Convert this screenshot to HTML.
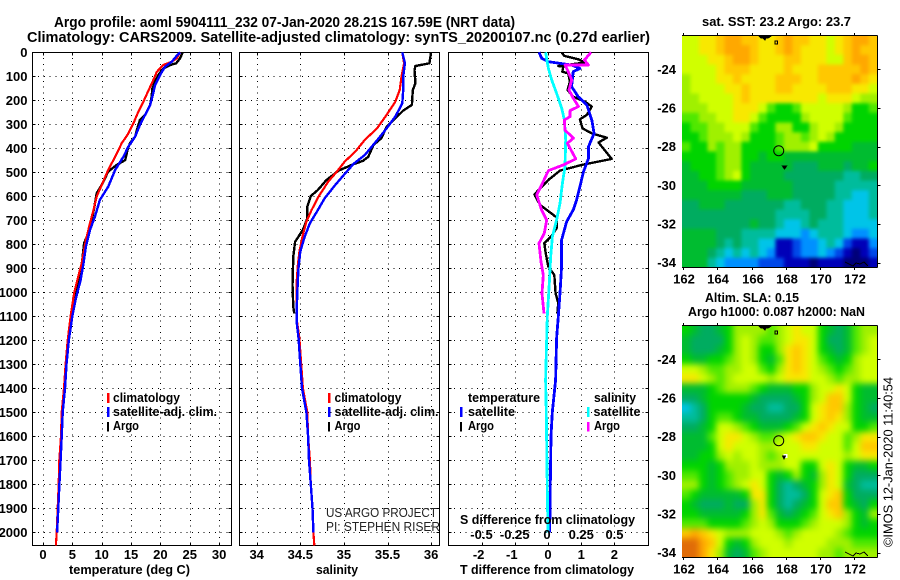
<!DOCTYPE html>
<html lang="en">
<head>
<meta charset="utf-8">
<title>Argo profile 5904111_232</title>
<style>
html,body{margin:0;padding:0;background:#fff;width:900px;height:580px;overflow:hidden}
svg{display:block;font-family:"Liberation Sans",sans-serif}
text{fill:#000}
.b{font-weight:bold;font-size:13px}
.t{font-weight:bold;font-size:14.5px}
.th{font-size:12.5px;fill:#222}
</style>
</head>
<body>
<svg id="chart" xmlns="http://www.w3.org/2000/svg" width="900" height="580" viewBox="0 0 900 580">
  <defs>
    <clipPath id="clip-sst"><rect x="682" y="35.5" width="195.3" height="232"/></clipPath>
    <clipPath id="clip-sla"><rect x="682" y="325.5" width="195.3" height="232"/></clipPath>
    <filter id="soft-sst" filterUnits="userSpaceOnUse" x="650" y="0" width="260" height="300" color-interpolation-filters="sRGB"><feGaussianBlur stdDeviation="1.8"/></filter>
    <filter id="soft-sla" filterUnits="userSpaceOnUse" x="650" y="290" width="260" height="300" color-interpolation-filters="sRGB"><feGaussianBlur stdDeviation="3.2"/></filter>
  </defs>
  <g clip-path="url(#clip-sst)"><g id="heat-sst" filter="url(#soft-sst)"></g></g>
  <g clip-path="url(#clip-sla)"><g id="heat-sla" filter="url(#soft-sla)"></g></g>
  <g id="axes"></g>
  <g id="lines"></g>
  <g id="ticklabels" class="b"></g>

  <text class="t" x="54" y="27" textLength="461" lengthAdjust="spacingAndGlyphs">Argo profile: aoml 5904111_232 07-Jan-2020 28.21S 167.59E (NRT data)</text>
  <text class="t" x="27" y="42" textLength="623" lengthAdjust="spacingAndGlyphs">Climatology: CARS2009. Satellite-adjusted climatology: synTS_20200107.nc (0.27d earlier)</text>

  <text class="b" x="69" y="574" textLength="121" lengthAdjust="spacingAndGlyphs">temperature (deg C)</text>
  <text class="b" x="316" y="574" textLength="42" lengthAdjust="spacingAndGlyphs">salinity</text>
  <text class="b" x="460" y="574" textLength="174" lengthAdjust="spacingAndGlyphs">T difference from climatology</text>
  <text class="b" x="460" y="524" textLength="175" lengthAdjust="spacingAndGlyphs">S difference from climatology</text>

  <g class="b">
    <rect x="107" y="393" width="2.5" height="10" fill="#f00"/>
    <text x="113" y="402" textLength="67" lengthAdjust="spacingAndGlyphs">climatology</text>
    <rect x="107" y="407" width="2.5" height="10" fill="#00f"/>
    <text x="113" y="416" textLength="104" lengthAdjust="spacingAndGlyphs">satellite-adj. clim.</text>
    <rect x="107" y="422" width="2" height="9.500" fill="#000"/>
    <text x="113" y="430" textLength="26" lengthAdjust="spacingAndGlyphs">Argo</text>
  </g>
  <g class="b">
    <rect x="328" y="393" width="2.5" height="10" fill="#f00"/>
    <text x="334.5" y="402" textLength="67" lengthAdjust="spacingAndGlyphs">climatology</text>
    <rect x="328" y="407" width="2.5" height="10" fill="#00f"/>
    <text x="334.5" y="416" textLength="104" lengthAdjust="spacingAndGlyphs">satellite-adj. clim.</text>
    <rect x="328" y="422" width="2" height="9.500" fill="#000"/>
    <text x="334.5" y="430" textLength="26" lengthAdjust="spacingAndGlyphs">Argo</text>
  </g>
  <g class="b">
    <text x="468" y="402" textLength="72" lengthAdjust="spacingAndGlyphs">temperature</text>
    <text x="594" y="402" textLength="42" lengthAdjust="spacingAndGlyphs">salinity</text>
    <rect x="460" y="407" width="2.5" height="10" fill="#00f"/>
    <text x="468" y="416" textLength="47" lengthAdjust="spacingAndGlyphs">satellite</text>
    <rect x="460" y="422" width="2" height="9.500" fill="#000"/>
    <text x="468" y="430" textLength="26" lengthAdjust="spacingAndGlyphs">Argo</text>
    <rect x="587" y="407" width="2.5" height="10" fill="#0ff"/>
    <text x="593.5" y="416" textLength="47" lengthAdjust="spacingAndGlyphs">satellite</text>
    <rect x="587" y="422" width="2.5" height="9.500" fill="#f0f"/>
    <text x="594" y="430" textLength="26" lengthAdjust="spacingAndGlyphs">Argo</text>
  </g>

  <text class="th" x="326" y="517" textLength="111" lengthAdjust="spacingAndGlyphs">US ARGO PROJECT</text>
  <text class="th" x="326" y="531" textLength="114" lengthAdjust="spacingAndGlyphs">PI: STEPHEN RISER</text>

  <text class="b" x="702" y="26" textLength="149" lengthAdjust="spacingAndGlyphs">sat. SST: 23.2 Argo: 23.7</text>
  <text class="b" x="705" y="302" textLength="94" lengthAdjust="spacingAndGlyphs">Altim. SLA: 0.15</text>
  <text class="b" x="688" y="316" textLength="177" lengthAdjust="spacingAndGlyphs">Argo h1000: 0.087 h2000: NaN</text>
  <text transform="translate(892.5 547) rotate(-90)" font-size="13" textLength="170" lengthAdjust="spacingAndGlyphs">©IMOS 12-Jan-2020 11:40:54</text>

  <g fill="none" stroke="#000" stroke-width="1" shape-rendering="crispEdges">
    <path d="M759 36h12l-3 2h-2l-1 2-2-2h-2z" fill="#000"/>
    <rect x="775" y="41" width="2.5" height="3"/>
    <path d="M845 262l4 2 4 2 3-3 4 1 4-2 4 4"/>
    <path d="M759 326h12l-3 2h-2l-1 2-2-2h-2z" fill="#000"/>
    <rect x="775" y="331" width="2.5" height="3"/>
    <path d="M845 552l4 2 4 2 3-3 4 1 4-2 4 4"/>
    <path d="M782.5 166h4l-2 3z" fill="#000"/>
    <rect x="783.5" y="454" width="4" height="4" fill="#fff" stroke="none"/>
    <path d="M782.5 456h3l-1.500 3z" fill="#000"/>
  </g>
  <g id="markers"></g>
</svg>

<script>
// ---------- depth tick labels ----------
const depthTicks = [0,100,200,300,400,500,600,700,800,900,1000,1100,1200,1300,1400,1500,1600,1700,1800,1900,2000];
const tempTicks = [0,5,10,15,20,25,30];
const salTicks = [34,34.5,35,35.5,36];
const salTickLabels = ['34','34.5','35','35.5','36'];
const dTTicks = [-2,-1,0,1,2];
const dSTicks = [-0.5,-0.25,0,0.25,0.5];
const dSTickLabels = ['-0.5','-0.25','0','0.25','0.5'];
const lonTicks = [162,164,166,168,170,172];
const latTicks = [-24,-26,-28,-30,-32,-34];

// ---------- temperature panel ----------
const argoTDepth = [0,25,46,53,67,94,122,150,185,220,261,282,323,351,379,407,449,469,497,553,587,643,699,754,796,865,921,976,1025,1087];
const argoTemp = [23.8,23.35,22.67,21.65,20.5,19.66,19.1,18.64,18.5,18.24,17.4,16.5,16,15.7,14.8,14.4,14,12.55,11.1,10,9.15,8.75,8.3,7.7,7,6.7,6.3,5.85,5.45,5];
const climTDepth = [0,25,39,53,81,115,157,206,247,296,338,379,435,490,553,601,657,712,782,879,935,1004,1100,1200,1300,1400,1500,1600,1700,1800,1900,2000,2054];
const climTemp = [23.35,22.8,21.95,20.5,19.4,18.8,18,17.1,16.25,15.4,14.55,13.4,12.3,11.1,10,9.15,8.6,8,7.3,6.6,6,5.3,4.7,4.2,3.85,3.58,3.18,3.07,2.78,2.67,2.5,2.33,2.2];
const satTDepth = [0,18,39,60,94,136,178,220,261,303,351,393,435,490,560,615,685,740,810,879,949,1025,1100,1200,1300,1400,1500,1600,1700,1800,1900,2000];
const satTemp = [23.35,22.67,21.95,20.8,19.95,19.1,18.7,18.24,17.4,16.5,15.7,14.55,13.7,12.3,11.1,9.7,8.85,8,7.3,6.9,6.4,5.6,5,4.4,4,3.75,3.35,3.18,3,2.8,2.6,2.4];

// ---------- salinity panel ----------
const argoSDepth = [0,46,57,74,129,157,219,243,275,310,358,386,435,452,469,493,532,574,599,643,692,740,789,851,970,1060,1088];
const argoSal = [36,35.98,35.82,35.81,35.82,35.79,35.78,35.68,35.59,35.49,35.43,35.34,35.28,35.22,35.09,34.94,34.8,34.7,34.62,34.58,34.58,34.53,34.44,34.42,34.41,34.42,34.43];
const climSDepth = [0,46,101,157,206,261,317,365,414,455,497,539,601,657,706,760,830,893,949,1046,1115,1192,1300,1400,1500,1600,1700,1800,1900,2000,2054];
const climSal = [35.67,35.69,35.66,35.64,35.59,35.49,35.38,35.24,35.13,35.01,34.92,34.82,34.71,34.63,34.57,34.53,34.49,34.47,34.46,34.46,34.46,34.49,34.51,34.53,34.58,34.59,34.61,34.62,34.64,34.65,34.66];
const satSDepth = [0,46,101,157,213,268,317,358,393,428,465,511,553,608,664,712,768,830,893,963,1060,1129,1192,1300,1400,1500,1600,1700,1800,1900,2000];
const satSal = [35.67,35.7,35.68,35.68,35.67,35.59,35.49,35.4,35.32,35.24,35.11,35,34.9,34.78,34.69,34.61,34.55,34.5,34.48,34.47,34.46,34.46,34.48,34.5,34.52,34.57,34.59,34.6,34.62,34.64,34.65];

// ---------- difference panel ----------
const argoDTDepth = [0,15,29,43,57,60,81,88,122,157,185,206,226,261,279,317,338,356,376,444,469,493,532,592,636,688,733,768,796,837,893,928,1004,1046,1088];
const argoDT = [0.41,0.49,0.91,1.11,0.31,0.46,0.43,0.61,0.66,0.59,0.76,1.11,1.32,1.17,0.96,1.04,1.32,1.77,1.52,1.92,1.02,0.36,0.01,-0.41,-0.24,0.26,0.26,0.09,-0.11,-0.07,0.01,0.19,0.23,0.31,0.28];
const satDTDepth = [0,25,39,53,67,81,143,185,219,282,338,393,442,497,560,615,657,706,782,893,1004,1101,1192,1366,1500,1600,1800,2000];
const satDT = [-0.27,-0.19,0.01,0.71,0.96,0.76,0.71,0.91,1.17,1.32,1.39,1.22,1.22,1.07,0.96,0.86,0.76,0.56,0.41,0.41,0.36,0.31,0.26,0.23,0.13,0.09,0.07,0.05];
const satDSDepth = [0,67,115,171,233,282,365,476,546,629,699,768,851,963,1101,1192,1366,1500,1700,1900,2000];
const satDS = [-0.018,0.003,0.028,0.065,0.103,0.123,0.133,0.128,0.108,0.09,0.065,0.033,0.02,0.01,-0.005,-0.01,-0.018,-0.013,-0.008,-0.003,0];
const argoDSDepth = [0,32,53,53,81,115,157,192,226,243,268,282,324,358,379,444,469,493,553,594,657,699,754,796,873,928,1004,1088];
const argoDS = [0.324,0.274,0.304,0.128,0.153,0.178,0.158,0.191,0.229,0.166,0.166,0.123,0.128,0.191,0.146,0.209,0.116,0.003,-0.048,-0.085,-0.048,-0.01,-0.028,-0.068,-0.053,-0.035,-0.045,-0.03];

// ---------- map fields: one character per cell, index into the colour ramp ----------
const levels = '0123456789ABCDEF';
const ramp = ['#000078','#0000b8','#0048e8','#0090ff','#00c4e8','#00bc9c','#00ac60','#00bc30','#00d400','#50e800','#a0f000','#d0ff00','#f8e800','#ffc800','#ffa800','#e06c08'];
const sstRows = [
'BBCCDEEDDCCDEDDCCBCDEED',
'BBCCDEEEDCCDEDCCCBCDEDD',
'BBBCCDEEDCCCDDCCCBBDEED',
'BBBBCDDDCCCCDCCCDDDDDED',
'ABBBCCDCCCCDDDCCDDDDEDC',
'ABBBBCCDCCCDDCCCCDDDCCB',
'AABBBBCDCCCCCCCCBCCCBAA',
'AAABBBCCCB9889BBBBBA889',
'99AABBCCB98888ABBBB9888',
'899AABBB988AA88ABBA8888',
'889AAABA8889AA9ABA88888',
'988A9AA88889AAAB8888777',
'88889AA8878877777777777',
'78889AA8777776667776778',
'77889AB8777766666665566',
'77788887777776666655555',
'77777776667776666655445',
'66777666666655666554445',
'66666666666555566554445',
'66666666766544565554444',
'77776665555444345554334',
'77776565544112334542113',
'77765454543112334321012',
'77754333322211101110001'
];
const slaRows = [
'876678AAAA9ABCBB87679AA',
'766668ABA99ABCCB86679AB',
'766678ABA88ACDCB87679AB',
'877889ABA879CDCB9878ABB',
'BBA99AABB98ACDCBA989ABB',
'CCBA9ABBBBABCCCBBA9AABB',
'77789AAA9877788ABBCB877',
'667888887666678ABDDB877',
'456888876655668BCDDA876',
'556899877666678BCDCA877',
'6678BBA9877789BCDCBB889',
'7779BCCBA99ABCDDCBB9ACC',
'7778BCBBBAABBBCCBBB9BDD',
'7788ABABBA9ABBBBBBBABCC',
'88878AAABAAABB88BCB8778',
'998789AABB878A87ACB8666',
'AA8789ABCB865678ACB7655',
'98777778CC865568BCD8666',
'87666766AC865678BDD8768',
'88777778AC976789BCDA87A',
'99988889ABA8889ABBBA878',
'DEDCBAAABBBA9ABBBBA9888',
'FFEDB878ABBBABBBBAAA999',
'FFECA7679ABBBBBBAA9AAAA'
];
const profileLon = 167.59;
const profileLat = -28.21;

// ---------- axis functions ----------
const PT = 52.5, PB = 545.5;
const yD = d => 52.3 + 0.24 * d;
const xT = v => 43 + 5.87 * v;
const xS = v => 256.7 + 87.2 * (v - 34);
const xDT = v => 548 + 33.2 * v;
const xDS = v => 548 + 133 * v;
const xLon = v => 683.3 + 17.07 * (v - 162);
const yLat1 = v => 69.3 + 19.34 * (-24 - v);
const yLat2 = v => 359.3 + 19.34 * (-24 - v);

const NS = 'http://www.w3.org/2000/svg';
const axesG = document.getElementById('axes');
const linesG = document.getElementById('lines');
const labelG = document.getElementById('ticklabels');
const markG = document.getElementById('markers');

function mk(tag, attrs, parent) {
  const el = document.createElementNS(NS, tag);
  for (const k in attrs) el.setAttribute(k, attrs[k]);
  parent.appendChild(el);
  return el;
}
function gridH(l, r, y) {
  const el = mk('line', {x1:l, x2:r, y1:y, y2:y, stroke:'#000', 'stroke-width':1, 'stroke-dasharray':'1 4.7'}, axesG);
  
  
  el.setAttribute('shape-rendering', 'crispEdges');
}
function gridV(x) {
  const el = mk('line', {x1:x, x2:x, y1:PT, y2:PB, stroke:'#000', 'stroke-width':1, 'stroke-dasharray':'1 4.7'}, axesG);
  
  
  el.setAttribute('shape-rendering', 'crispEdges');
}
function tickMark(x1, y1, x2, y2) {
  const el = mk('line', {x1, y1, x2, y2, stroke:'#000', 'stroke-width':1}, axesG);
  
  
  el.setAttribute('shape-rendering', 'crispEdges');
}
function label(str, x, y, anchor) {
  const el = mk('text', {x, y, 'text-anchor':anchor}, labelG);
  el.textContent = str;
  
  
}
function panel(l, r) {
  depthTicks.forEach(d => {
    if (d === 0) return;
    gridH(l, r, Math.round(yD(d)) + 0.5);
    tickMark(l, Math.round(yD(d)) + 0.5, l + 3, Math.round(yD(d)) + 0.5);
    tickMark(r, Math.round(yD(d)) + 0.5, r - 3, Math.round(yD(d)) + 0.5);
  });
  const el = mk('rect', {x:l, y:PT, width:r - l, height:PB - PT, fill:'none', stroke:'#000', 'stroke-width':1}, axesG);
  
  
  el.setAttribute('shape-rendering', 'crispEdges');
}
function vTicks(values, fn) {
  values.forEach(v => {
    const x = Math.round(fn(v)) + 0.5;
    gridV(x);
    tickMark(x, PB, x, PB - 3);
    tickMark(x, PT, x, PT + 3);
  });
}
function profile(depths, values, xFn, color, width) {
  const pts = depths.map((d, i) => xFn(values[i]).toFixed(1) + ',' + yD(d).toFixed(1)).join(' ');
  const el = mk('polyline', {points:pts, fill:'none', stroke:color, 'stroke-width':width, 'stroke-linejoin':'round'}, linesG);
  
  
  el.setAttribute('shape-rendering', 'crispEdges');
}

// ---------- profile panels ----------
panel(32.5, 231.5);
panel(239.5, 439.5);
panel(448.5, 648.5);
vTicks(tempTicks, xT);
vTicks(salTicks, xS);
vTicks(dTTicks, xDT);

depthTicks.forEach(d => label(String(d), 27.5, yD(d) + 4.7, 'end'));
tempTicks.forEach(v => label(String(v), xT(v), 559, 'middle'));
salTicks.forEach((v, i) => label(salTickLabels[i], xS(v), 559, 'middle'));
dTTicks.forEach(v => label(String(v), xDT(v) + (v < 0 ? -3 : 0), 559, 'middle'));
dSTicks.forEach((v, i) => label(dSTickLabels[i], xDS(v) + (v === 0 ? -1 : 0), 539, 'middle'));

profile(argoTDepth, argoTemp, xT, '#000', 2.4);
profile(climTDepth, climTemp, xT, '#f00', 2.2);
profile(satTDepth, satTemp, xT, '#00f', 2.4);

profile(argoSDepth, argoSal, xS, '#000', 2.4);
profile(climSDepth, climSal, xS, '#f00', 2.2);
profile(satSDepth, satSal, xS, '#00f', 2.4);

profile(argoDTDepth, argoDT, xDT, '#000', 2.4);
profile(satDTDepth, satDT, xDT, '#00f', 2.8);
profile(satDSDepth, satDS, xDS, '#0ff', 2.8);
profile(argoDSDepth, argoDS, xDS, '#f0f', 2.8);

// ---------- maps ----------
function drawMap(rows, heatGroup, yFn, top, bottom) {
  const L = 682, R = 877.3, PAD = 16;
  const w = (R - L) / rows[0].length, h = (bottom - top) / rows.length;
  rows.forEach((row, r) => {
    for (let c = 0; c < row.length; c++) {
      // edge cells run past the clip so the softening keeps full colour at the border
      const x0 = c === 0 ? L - PAD : L + c * w;
      const x1 = c === row.length - 1 ? R + PAD : L + (c + 1) * w + 0.6;
      const y0 = r === 0 ? top - PAD : top + r * h;
      const y1 = r === rows.length - 1 ? bottom + PAD : top + (r + 1) * h + 0.6;
      const cell = mk('rect', {
        x: x0.toFixed(1), y: y0.toFixed(1),
        width: (x1 - x0).toFixed(1), height: (y1 - y0).toFixed(1),
        fill: ramp[levels.indexOf(row[c])]
      }, heatGroup);
      
      
    }
  });
  const edges = [[L, top, R, top], [R, top, R, bottom], [L, bottom, R, bottom]];
  edges.forEach(e => tickMark(e[0], e[1], e[2], e[3]));
  lonTicks.forEach(v => {
    const x = Math.round(xLon(v)) + 0.5;
    tickMark(x, top, x, top - 2.5);
    tickMark(x, bottom, x, bottom + 2.5);
    label(String(v), x + 0.5, bottom + 16, 'middle');
  });
  latTicks.forEach(v => {
    const y = Math.round(yFn(v)) + 0.5;
    tickMark(R, y, R + 3, y);
    label(String(v), 676, yFn(v) + 4.5, 'end');
  });
  const m = mk('circle', {cx:xLon(profileLon), cy:yFn(profileLat), r:5, fill:'none', stroke:'#000', 'stroke-width':1}, markG);
  
  
}
drawMap(sstRows, document.getElementById('heat-sst'), yLat1, 35.5, 267.5);
drawMap(slaRows, document.getElementById('heat-sla'), yLat2, 325.5, 557.5);
</script>
</body>
</html>
